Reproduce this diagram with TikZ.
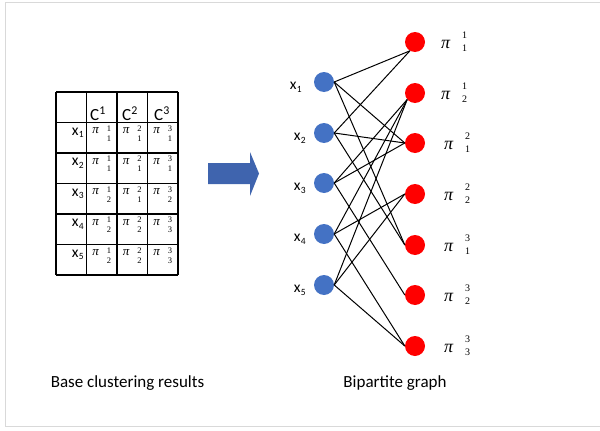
\documentclass[tikz,border=0pt]{standalone}
\usepackage{fontspec}
\setmainfont{Carlito}
\newfontfamily\timesfont{Liberation Serif}
\usetikzlibrary{positioning}
\definecolor{ptblue}{RGB}{68,114,196}
\definecolor{arrblue}{RGB}{63,100,174}
\definecolor{clred}{RGB}{255,0,0}
\definecolor{framegray}{RGB}{217,217,217}

% pi with stacked superscript / subscript
\newcommand{\pistack}[6]{{\timesfont\itshape π}\hspace{#2}\raisebox{#4}{$\vcenter{\offinterlineskip\hbox{\timesfont\fontsize{#1}{#1}\selectfont #5}\vskip #3\hbox{\timesfont\fontsize{#1}{#1}\selectfont #6}}$}}
\newcommand{\bigpi}[2]{\pistack{10pt}{12pt}{6.3pt}{2pt}{#1}{#2}}
\newcommand{\cellpi}[2]{\pistack{8.5pt}{8pt}{4.6pt}{-3pt}{#1}{#2}}
% x with small subscript
\newcommand{\xsub}[1]{x\kern.5pt\raisebox{-2.5pt}{\fontsize{9.5pt}{10pt}\selectfont #1}}

\tikzset{
  frameline/.style={draw=framegray, line width=1pt},
  gridline/.style={line width=1.3pt},
  ptnode/.style={circle, fill=ptblue, minimum size=20pt, inner sep=0pt},
  clnode/.style={circle, fill=clred, minimum size=20pt, inner sep=0pt},
  bipedge/.style={line width=1pt},
  txt/.style={font=\fontsize{17pt}{20pt}\selectfont, inner sep=0pt},
  xlabel/.style={font=\fontsize{15.5pt}{18pt}\selectfont, inner sep=0pt, anchor=base east},
  pilabel/.style={font=\fontsize{18pt}{20pt}\selectfont, inner sep=0pt, anchor=west},
  cellnum/.style={font=\fontsize{13pt}{14pt}\selectfont, inner sep=0pt}
}

\begin{document}
\begin{tikzpicture}[x=1pt,y=-1pt]
  \useasboundingbox (0,0) rectangle (600,431);
  \draw[frameline] (600,2) -- (5,2) -- (5,426) -- (600,426);

  % table of base clusterings
  \foreach \c in {56,86.5,117,147.5,178}
    \draw[gridline] (\c,92) -- (\c,275);
  \foreach \r in {92,122.5,153,183.5,214,244.5,275}
    \draw[gridline] (56,\r) -- (178,\r);
  \foreach \j/\cx in {1/98,2/130,3/162}
    \node[txt, anchor=base] (h\j) at (\cx,120.5) {C\textsuperscript{\j}};
  \foreach \i/\ry/\sa/\sb/\sc in {1/122.5/1/1/1,2/153/1/1/1,3/183.5/2/1/2,4/214/2/2/3,5/244.5/2/2/3} {
    \node[xlabel] (r\i) at (84,\ry+12.5) {\xsub{\i}};
    \node[cellnum] (p\i-1) at (101.75,\ry+11) {\cellpi{1}{\sa}};
    \node[cellnum] (p\i-2) at (132.25,\ry+11) {\cellpi{2}{\sb}};
    \node[cellnum] (p\i-3) at (162.75,\ry+11) {\cellpi{3}{\sc}};
  }

  % arrow
  \fill[arrblue] (208,163) -- (250,163) -- (250,152) -- (259,173.5) -- (250,196) -- (250,184) -- (208,184) -- cycle;

  % bipartite graph
  \foreach \i/\y/\lx in {1/82/302,2/133/306,3/183/306,4/234/306,5/285/306} {
    \node[ptnode] (x\i) at (324,\y) {};
    \node[xlabel] (lx\i) at (\lx,\y+7.5) {\xsub{\i}};
  }
  \foreach \j/\y/\lx/\sp/\sb in {1/42/441/1/1,2/93/441/1/2,3/143/444/2/1,4/194/444/2/2,5/245/444/3/1,6/295/444/3/2,7/346/444/3/3} {
    \node[clnode] (c\j) at (415,\y) {};
    \node[pilabel] (lc\j) at (\lx,\y) {\bigpi{\sp}{\sb}};
  }
  \foreach \a/\b/\an in {1/1/240,1/3/180,1/5/180,2/1/240,2/3/180,2/5/180,3/2/220,3/3/180,3/6/180,4/2/220,4/4/180,4/7/180,5/2/220,5/4/180,5/7/180}
    \draw[bipedge] (x\a.east) -- (c\b.\an);

  \node[txt, anchor=base] (capl) at (127.5,387) {Base clustering results};
  \node[txt, anchor=base] (capr) at (395,387) {Bipartite graph};
\end{tikzpicture}
\end{document}
